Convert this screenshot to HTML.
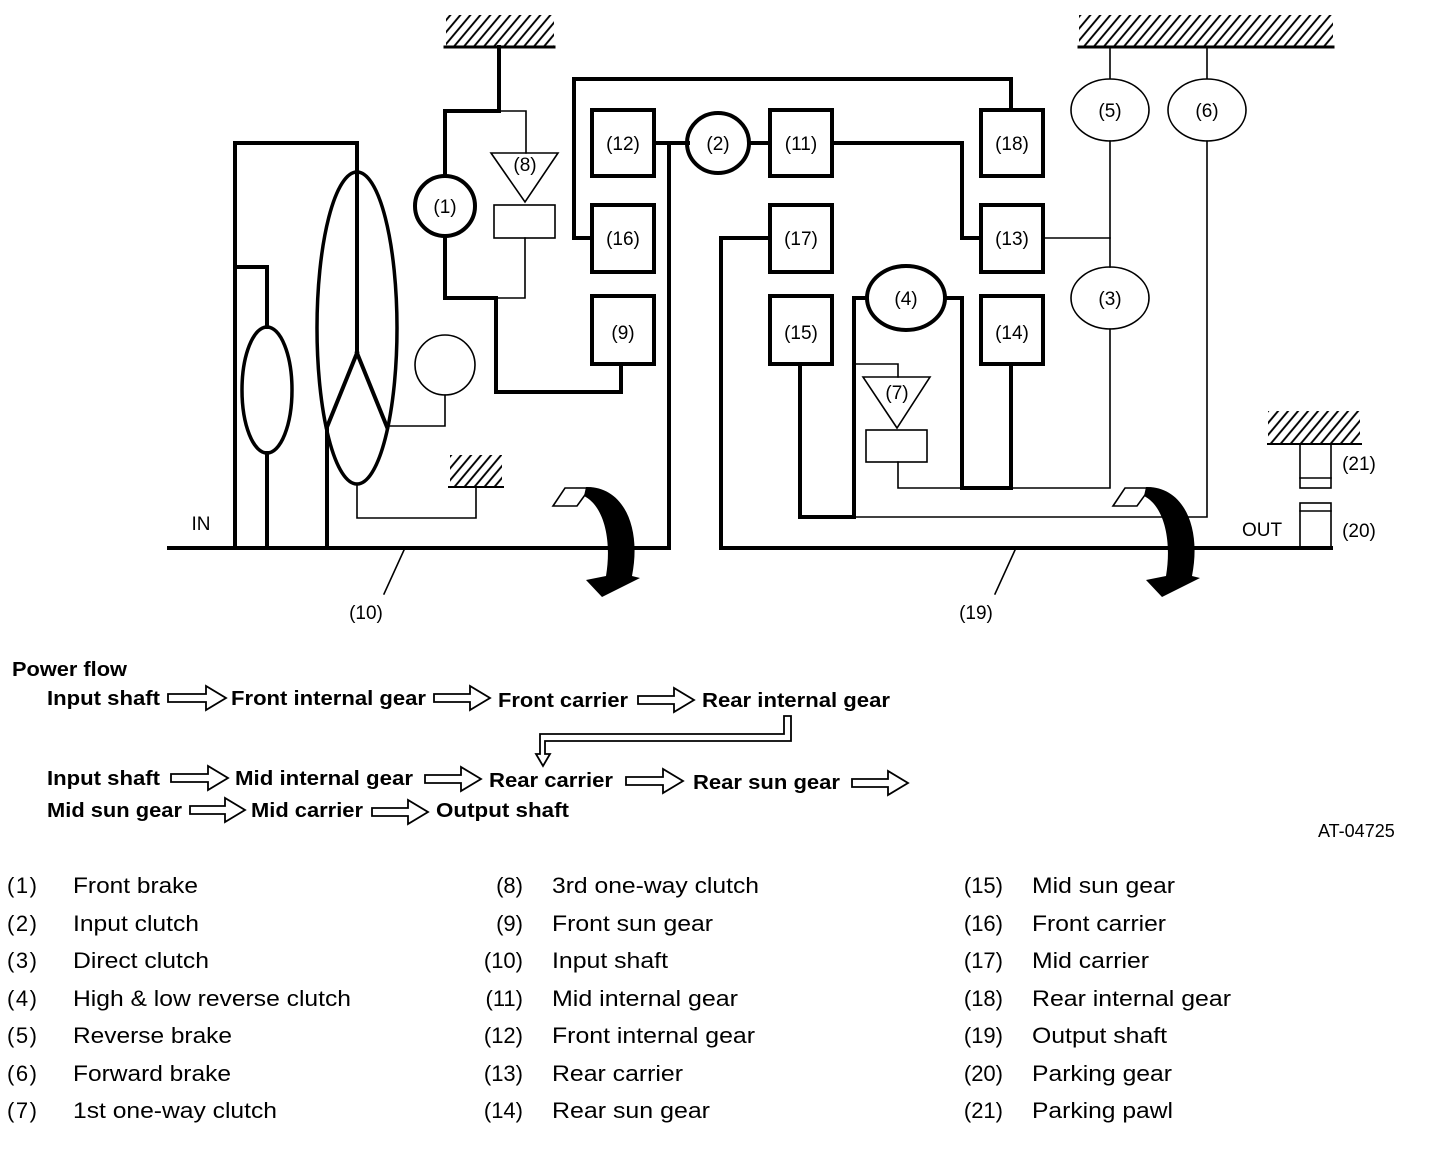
<!DOCTYPE html>
<html><head><meta charset="utf-8"><style>
html,body{margin:0;padding:0;background:#fff;}
svg{display:block;}
text{font-family:"Liberation Sans",Arial,sans-serif;fill:#000;}
.lbl{font-size:19px;}
.pf{font-size:20px;font-weight:bold;}
.lg{font-size:22px;}
</style></head><body>
<svg width="1440" height="1164" viewBox="0 0 1440 1164" xmlns="http://www.w3.org/2000/svg">
<defs>
<pattern id="h" width="10" height="40" patternUnits="userSpaceOnUse" patternTransform="skewX(-40)">
<line x1="3" y1="0" x2="3" y2="40" stroke="#000" stroke-width="2.5"/>
</pattern>
</defs>
<g fill="none" stroke="#000" stroke-linejoin="miter" stroke-linecap="square">
<rect x="446" y="15" width="108" height="32" fill="url(#h)" stroke="none"/>
<line x1="445" y1="47" x2="554" y2="47" stroke-width="3"/>
<rect x="1079" y="15" width="254" height="32" fill="url(#h)" stroke="none"/>
<line x1="1079" y1="47" x2="1333" y2="47" stroke-width="3"/>
<rect x="450" y="455" width="52" height="31" fill="url(#h)" stroke="none"/>
<line x1="449" y1="487" x2="503" y2="487" stroke-width="2"/>
<rect x="1268" y="411" width="92" height="32" fill="url(#h)" stroke="none"/>
<line x1="1268" y1="444" x2="1361" y2="444" stroke-width="2"/>

<g stroke-width="4">
<polyline points="499,47 499,111 445,111 445,176"/>
<polyline points="445,236 445,298 496,298 496,392 621,392 621,364"/>
<polyline points="235,548 235,143 357,143 357,353"/>
<polyline points="235,267 267,267 267,327"/>
<line x1="267" y1="453" x2="267" y2="548"/>
<line x1="327" y1="427" x2="327" y2="548"/>
<polyline points="357,353 327,427"/>
<polyline points="357,353 387,427"/>
<line x1="169" y1="548" x2="669" y2="548"/>
<polyline points="669,548 669,143 654,143"/>
<line x1="669" y1="143" x2="688" y2="143"/>
<polyline points="592,238 574,238 574,79 1011,79 1011,110"/>
<ellipse cx="357" cy="328" rx="40" ry="156" stroke-width="3.5"/>
<ellipse cx="267" cy="390" rx="25" ry="63" stroke-width="3.5"/>
<ellipse cx="445" cy="206" rx="30" ry="30"/>
<ellipse cx="718" cy="143" rx="31" ry="30"/>
<rect x="592" y="110" width="62" height="66"/>
<rect x="592" y="205" width="62" height="67"/>
<rect x="592" y="296" width="62" height="68"/>
<line x1="749" y1="143" x2="770" y2="143"/>
<rect x="770" y="110" width="62" height="66"/>
<rect x="770" y="205" width="62" height="67"/>
<rect x="770" y="296" width="62" height="68"/>
<rect x="981" y="110" width="62" height="66"/>
<rect x="981" y="205" width="62" height="67"/>
<rect x="981" y="296" width="62" height="68"/>
<polyline points="832,143 962,143 962,238 981,238"/>
<polyline points="770,238 721,238 721,548 1331,548"/>
<ellipse cx="906" cy="298" rx="39" ry="32"/>
<polyline points="867,298 854,298 854,517 800,517 800,364"/>
<polyline points="945,298 962,298 962,488 1011,488 1011,364"/>
</g>
<g stroke-width="1.6">
<polyline points="499,111 526,111 526,153"/>
<polygon points="491,153 558,153 525,202"/>
<rect x="494" y="205" width="61" height="33"/>
<polyline points="525,238 525,298 496,298"/>
<polyline points="387,426 445,426 445,395"/>
<ellipse cx="445" cy="365" rx="30" ry="30"/>
<polyline points="357,484 357,518 476,518 476,487"/>
<line x1="404" y1="550" x2="384" y2="594"/>
<line x1="1015" y1="550" x2="995" y2="594"/>
<line x1="1110" y1="47" x2="1110" y2="78"/>
<line x1="1207" y1="47" x2="1207" y2="78"/>
<ellipse cx="1110" cy="110" rx="39" ry="31"/>
<ellipse cx="1207" cy="110" rx="39" ry="31"/>
<ellipse cx="1110" cy="298" rx="39" ry="31"/>
<line x1="1110" y1="141" x2="1110" y2="267"/>
<line x1="1043" y1="238" x2="1110" y2="238"/>
<polyline points="1110,329 1110,488 898,488 898,462"/>
<polyline points="854,364 898,364 898,377"/>
<polygon points="863,377 930,377 897,428"/>
<rect x="866" y="430" width="61" height="32"/>
<polyline points="854,517 1207,517 1207,141"/>
<rect x="1300" y="444" width="31" height="44"/>
<line x1="1300" y1="478" x2="1331" y2="478"/>
<rect x="1300" y="503" width="31" height="45"/>
<line x1="1300" y1="511" x2="1331" y2="511"/>
</g>
<g>
<polygon points="553,506 565,488 590,488 577,506" stroke-width="1.6" fill="#fff"/>
<path d="M586,487 C622,486 642,525 632,576 L640,578 L602,597 L586,580 L606,576 C612,540 604,506 584,496 Z" fill="#000" stroke="none"/>
</g>
<g transform="translate(560,0)">
<polygon points="553,506 565,488 590,488 577,506" stroke-width="1.6" fill="#fff"/>
<path d="M586,487 C622,486 642,525 632,576 L640,578 L602,597 L586,580 L606,576 C612,540 604,506 584,496 Z" fill="#000" stroke="none"/>
</g>
<g stroke-width="1.8">
<path d="M168,694 h38 v-8 l20,12 l-20,12 v-8 h-38z"/>
<path d="M434,694 h36 v-8 l20,12 l-20,12 v-8 h-36z"/>
<path d="M638,696 h36 v-8 l20,12 l-20,12 v-8 h-36z"/>
<path d="M171,774 h37 v-8 l20,12 l-20,12 v-8 h-37z"/>
<path d="M425,775 h36 v-8 l20,12 l-20,12 v-8 h-36z"/>
<path d="M626,777 h37 v-8 l20,12 l-20,12 v-8 h-37z"/>
<path d="M852,779 h36 v-8 l20,12 l-20,12 v-8 h-36z"/>
<path d="M190,806 h35 v-8 l20,12 l-20,12 v-8 h-35z"/>
<path d="M372,808 h36 v-8 l20,12 l-20,12 v-8 h-36z"/>
<path d="M784,716 h7 v25 h-246 v13 h5 l-7,12 l-7,-12 h4 v-20 h244 z"/>
</g>
</g>
<g class="lbl" text-anchor="middle">
<text x="445" y="213">(1)</text>
<text x="525" y="171">(8)</text>
<text x="623" y="150">(12)</text>
<text x="623" y="245">(16)</text>
<text x="623" y="339">(9)</text>
<text x="718" y="150">(2)</text>
<text x="801" y="150">(11)</text>
<text x="801" y="245">(17)</text>
<text x="801" y="339">(15)</text>
<text x="1012" y="150">(18)</text>
<text x="1012" y="245">(13)</text>
<text x="1012" y="339">(14)</text>
<text x="1110" y="117">(5)</text>
<text x="1207" y="117">(6)</text>
<text x="1110" y="305">(3)</text>
<text x="906" y="305">(4)</text>
<text x="897" y="399">(7)</text>
<text x="366" y="619">(10)</text>
<text x="976" y="619">(19)</text>
<text x="1359" y="470">(21)</text>
<text x="1359" y="537">(20)</text>
<text x="1262" y="536">OUT</text>
<text x="201" y="530">IN</text>
</g>
<g class="pf">
<text x="12" y="676" textLength="115" lengthAdjust="spacingAndGlyphs">Power flow</text>
<text x="47" y="705" textLength="113" lengthAdjust="spacingAndGlyphs">Input shaft</text>
<text x="231" y="705" textLength="195" lengthAdjust="spacingAndGlyphs">Front internal gear</text>
<text x="498" y="707" textLength="130" lengthAdjust="spacingAndGlyphs">Front carrier</text>
<text x="702" y="707" textLength="188" lengthAdjust="spacingAndGlyphs">Rear internal gear</text>
<text x="47" y="785" textLength="113" lengthAdjust="spacingAndGlyphs">Input shaft</text>
<text x="235" y="785" textLength="178" lengthAdjust="spacingAndGlyphs">Mid internal gear</text>
<text x="489" y="787" textLength="124" lengthAdjust="spacingAndGlyphs">Rear carrier</text>
<text x="693" y="789" textLength="147" lengthAdjust="spacingAndGlyphs">Rear sun gear</text>
<text x="47" y="817" textLength="135" lengthAdjust="spacingAndGlyphs">Mid sun gear</text>
<text x="251" y="817" textLength="112" lengthAdjust="spacingAndGlyphs">Mid carrier</text>
<text x="436" y="817" textLength="133" lengthAdjust="spacingAndGlyphs">Output shaft</text>
</g>
<text x="1318" y="837" style="font-size:18px">AT-04725</text>
<g class="lg">
<text x="7" y="893" textLength="30">(1)</text><text x="73" y="893" textLength="125" lengthAdjust="spacingAndGlyphs">Front brake</text>
<text x="7" y="931" textLength="30">(2)</text><text x="73" y="931" textLength="126" lengthAdjust="spacingAndGlyphs">Input clutch</text>
<text x="7" y="968" textLength="30">(3)</text><text x="73" y="968" textLength="136" lengthAdjust="spacingAndGlyphs">Direct clutch</text>
<text x="7" y="1006" textLength="30">(4)</text><text x="73" y="1006" textLength="278" lengthAdjust="spacingAndGlyphs">High &amp; low reverse clutch</text>
<text x="7" y="1043" textLength="30">(5)</text><text x="73" y="1043" textLength="159" lengthAdjust="spacingAndGlyphs">Reverse brake</text>
<text x="7" y="1081" textLength="30">(6)</text><text x="73" y="1081" textLength="158" lengthAdjust="spacingAndGlyphs">Forward brake</text>
<text x="7" y="1118" textLength="30">(7)</text><text x="73" y="1118" textLength="204" lengthAdjust="spacingAndGlyphs">1st one-way clutch</text>
<g text-anchor="end">
<text x="523" y="893">(8)</text><text x="523" y="931">(9)</text><text x="523" y="968">(10)</text>
<text x="523" y="1006">(11)</text><text x="523" y="1043">(12)</text><text x="523" y="1081">(13)</text><text x="523" y="1118">(14)</text>
<text x="1003" y="893">(15)</text><text x="1003" y="931">(16)</text><text x="1003" y="968">(17)</text>
<text x="1003" y="1006">(18)</text><text x="1003" y="1043">(19)</text><text x="1003" y="1081">(20)</text><text x="1003" y="1118">(21)</text>
</g>
<text x="552" y="893" textLength="207" lengthAdjust="spacingAndGlyphs">3rd one-way clutch</text>
<text x="552" y="931" textLength="161" lengthAdjust="spacingAndGlyphs">Front sun gear</text>
<text x="552" y="968" textLength="116" lengthAdjust="spacingAndGlyphs">Input shaft</text>
<text x="552" y="1006" textLength="186" lengthAdjust="spacingAndGlyphs">Mid internal gear</text>
<text x="552" y="1043" textLength="203" lengthAdjust="spacingAndGlyphs">Front internal gear</text>
<text x="552" y="1081" textLength="131" lengthAdjust="spacingAndGlyphs">Rear carrier</text>
<text x="552" y="1118" textLength="158" lengthAdjust="spacingAndGlyphs">Rear sun gear</text>
<text x="1032" y="893" textLength="143" lengthAdjust="spacingAndGlyphs">Mid sun gear</text>
<text x="1032" y="931" textLength="134" lengthAdjust="spacingAndGlyphs">Front carrier</text>
<text x="1032" y="968" textLength="117" lengthAdjust="spacingAndGlyphs">Mid carrier</text>
<text x="1032" y="1006" textLength="199" lengthAdjust="spacingAndGlyphs">Rear internal gear</text>
<text x="1032" y="1043" textLength="135" lengthAdjust="spacingAndGlyphs">Output shaft</text>
<text x="1032" y="1081" textLength="140" lengthAdjust="spacingAndGlyphs">Parking gear</text>
<text x="1032" y="1118" textLength="141" lengthAdjust="spacingAndGlyphs">Parking pawl</text>
</g>
</svg>
</body></html>
